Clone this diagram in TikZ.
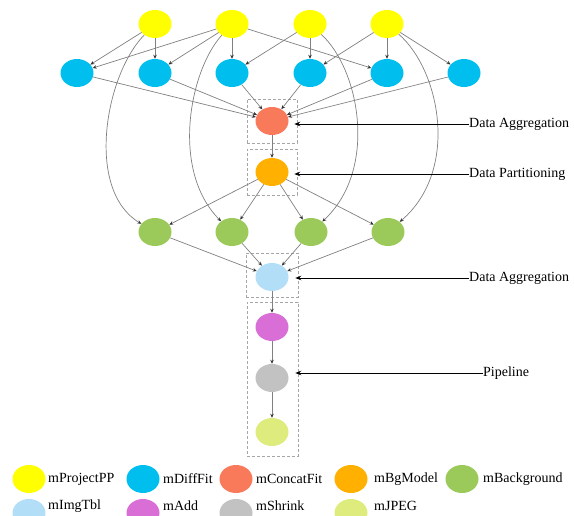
\documentclass[tikz,border=0pt]{standalone}
\usepackage{fontspec}
\setmainfont{Liberation Serif}
\usetikzlibrary{arrows.meta,shapes.geometric}

\definecolor{cProj}{HTML}{FFFF00}
\definecolor{cDiff}{HTML}{00BFEF}
\definecolor{cConcat}{HTML}{F97A5A}
\definecolor{cBg}{HTML}{FFB000}
\definecolor{cBack}{HTML}{9BC95A}
\definecolor{cImg}{HTML}{B3DEF7}
\definecolor{cAdd}{HTML}{D86ED6}
\definecolor{cShrink}{HTML}{C2C2C2}
\definecolor{cJpeg}{HTML}{DDEC7C}
\definecolor{cEdge}{HTML}{808080}

\tikzset{
  job/.style={ellipse, minimum width=33pt, minimum height=28pt, inner sep=0pt},
  edge/.style={draw=cEdge, line width=0.7pt, -{Stealth[length=4pt,width=3.5pt,color=black!80]}},
  grp/.style={draw=gray!70, densely dashed, line width=0.5pt, inner sep=0pt},
  note/.style={font=\fontsize{14}{16}\selectfont, inner sep=0pt, anchor=west},
  pointer/.style={draw=black, line width=0.9pt, -{Stealth[length=6pt,width=4.5pt]}},
  legtext/.style={font=\fontsize{14}{16}\selectfont, inner sep=0pt, anchor=west},
}

\begin{document}
\begin{tikzpicture}[x=1pt, y=-1pt]
\useasboundingbox (0,0) rectangle (574,515);

% grouping boxes
\node[grp, minimum width=50pt, minimum height=44pt] (box1) at (272,121) {};
\node[grp, minimum width=50pt, minimum height=46pt] (box2) at (272,172) {};
\node[grp, minimum width=52pt, minimum height=44pt] (box3) at (272,275) {};
\node[grp, minimum width=51pt, minimum height=154pt] (box4) at (272.5,379) {};

% mProjectPP
\node[job, fill=cProj] (y1) at (155,24) {};
\node[job, fill=cProj] (y2) at (232,24) {};
\node[job, fill=cProj] (y3) at (310,24) {};
\node[job, fill=cProj] (y4) at (387,24) {};

% mDiffFit
\node[job, fill=cDiff] (c1) at (77,73) {};
\node[job, fill=cDiff] (c2) at (155,73) {};
\node[job, fill=cDiff] (c3) at (232,73) {};
\node[job, fill=cDiff] (c4) at (310,73) {};
\node[job, fill=cDiff] (c5) at (387,73) {};
\node[job, fill=cDiff] (c6) at (464,73) {};

% mConcatFit, mBgModel
\node[job, fill=cConcat] (cf) at (272,121) {};
\node[job, fill=cBg] (bm) at (272,172) {};

% mBackground
\node[job, fill=cBack] (g1) at (155,232) {};
\node[job, fill=cBack] (g2) at (232,232) {};
\node[job, fill=cBack] (g3) at (311,232) {};
\node[job, fill=cBack] (g4) at (388,232) {};

% pipeline
\node[job, fill=cImg] (it) at (272,277) {};
\node[job, fill=cAdd] (ad) at (272,327) {};
\node[job, fill=cShrink] (sh) at (272,378) {};
\node[job, fill=cJpeg] (jp) at (272,432) {};

% mProjectPP -> mDiffFit
\draw[edge] (y1) -- (c1);
\draw[edge] (y1) -- (c2);
\draw[edge] (y2) -- (c1);
\draw[edge] (y2) -- (c2);
\draw[edge] (y2) -- (c3);
\draw[edge] (y2) -- (c5);
\draw[edge] (y3) -- (c3);
\draw[edge] (y3) -- (c4);
\draw[edge] (y4) -- (c4);
\draw[edge] (y4) -- (c5);
\draw[edge] (y4) -- (c6);

% mProjectPP -> mBackground
\draw[edge] (y1) .. controls (105,75) and (85,190) .. (g1);
\draw[edge] (y2) .. controls (190,70) and (170,170) .. (g2);
\draw[edge] (y3) .. controls (360,70) and (378,170) .. (g3);
\draw[edge] (y4) .. controls (440,70) and (460,170) .. (g4);

% mDiffFit -> mConcatFit
\foreach \n in {c1,c2,c3,c4,c5,c6} \draw[edge] (\n) -- (cf);
\draw[edge] (cf) -- (bm);

% mBgModel -> mBackground -> mImgTbl
\foreach \n in {g1,g2,g3,g4} {
  \draw[edge] (bm) -- (\n);
  \draw[edge] (\n) -- (it);
}
\draw[edge] (it) -- (ad);
\draw[edge] (ad) -- (sh);
\draw[edge] (sh) -- (jp);

% annotations
\node[note] (n1) at (469,124) {Data Aggregation};
\node[note] (n2) at (469,174) {Data Partitioning};
\node[note] (n3) at (469,278) {Data Aggregation};
\node[note] (n4) at (483,373) {Pipeline};
\draw[pointer, shorten >=-3pt] (n1.west) -- (n1.west -| box1.east);
\draw[pointer, shorten >=-3pt] (n2.west) -- (n2.west -| box2.east);
\draw[pointer, shorten >=-3pt] (n3.west) -- (n3.west -| box3.east);
\draw[pointer, shorten >=-3pt] (n4.west) -- (n4.west -| box4.east);

% legend
\node[job, fill=cProj] (l1) at (29,479) {};
\node[job, fill=cDiff] (l2) at (143,479) {};
\node[job, fill=cConcat] (l3) at (236,479) {};
\node[job, fill=cBg] (l4) at (351,479) {};
\node[job, fill=cBack] (l5) at (462,479) {};
\node[legtext] (t1) at (48,479) {mProjectPP};
\node[legtext] (t2) at (163,479) {mDiffFit};
\node[legtext] (t3) at (256,479) {mConcatFit};
\node[legtext] (t4) at (374,479) {mBgModel};
\node[legtext] (t5) at (483,479) {mBackground};

\node[job, fill=cImg] (l6) at (29,513) {};
\node[job, fill=cAdd] (l7) at (143,513) {};
\node[job, fill=cShrink] (l8) at (236,513) {};
\node[job, fill=cJpeg] (l9) at (351,513) {};
\node[legtext] (t6) at (48,506) {mImgTbl};
\node[legtext] (t7) at (163,506) {mAdd};
\node[legtext] (t8) at (256,506) {mShrink};
\node[legtext] (t9) at (374,506) {mJPEG};
\end{tikzpicture}
\end{document}
